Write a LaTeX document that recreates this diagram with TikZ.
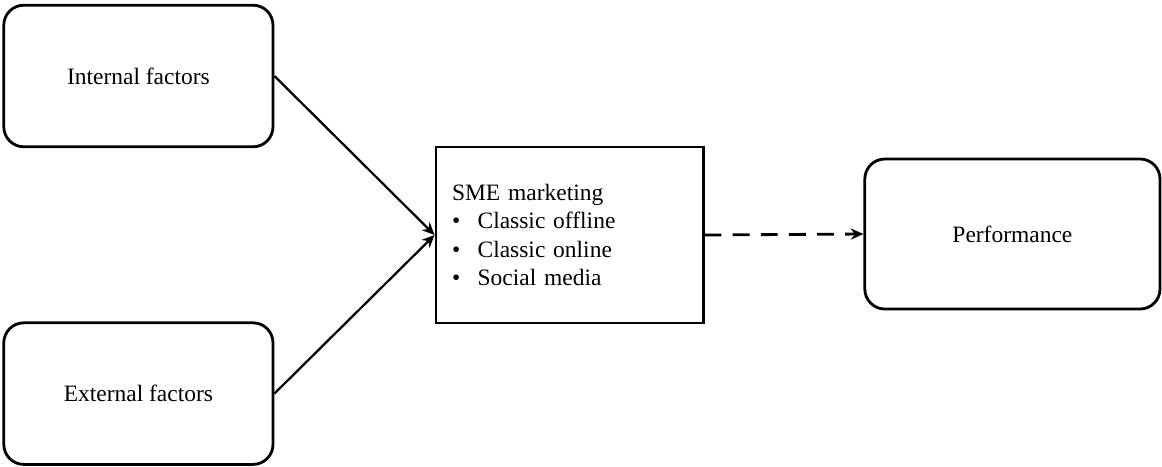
\documentclass[tikz,border=0pt]{standalone}
\usepackage{fontspec}
\setmainfont{Liberation Serif}
\usepackage{tikz}
\usetikzlibrary{positioning}
\usetikzlibrary{arrows.meta}
\usepackage{xcolor}
\definecolor{boxblack}{RGB}{0, 0, 0}

\begin{document}
\begin{tikzpicture}[
        % Node styles
        factor/.style={draw=boxblack, line width=2pt, rounded corners=0.5cm, minimum width=6.73cm, minimum height=3.54cm, font=\fontsize{16.7}{20.2}\selectfont},
        marketing/.style={draw=boxblack, line width=2pt, minimum width=6.68cm, minimum height=4.40cm, text width=5.88cm, inner xsep=0.4cm, align=left, font=\fontsize{16.7}{20.2}\selectfont},
        result/.style={draw=boxblack, line width=2pt, rounded corners=0.5cm, minimum width=7.38cm, minimum height=3.75cm, font=\fontsize{16.7}{20.2}\selectfont}
    ]
    \useasboundingbox (0, 0) rectangle (29.05, -11.65);

    % Driving factors
    \node[factor] (internal) at (3.46, -1.90) {Internal factors};
    \node[factor] (external) at (3.46, -9.84) {External factors};

    % Marketing channels
    \node[marketing] (sme) at (14.24, -5.875) {SME marketing\\
        \makebox[0.64cm][l]{\textbullet}Classic offline\\
        \makebox[0.64cm][l]{\textbullet}Classic online\\
        \makebox[0.64cm][l]{\textbullet}Social media};

    % Outcome
    \node[result] (perf) at (25.31, -5.85) {Performance};

    % Influence arrows
    \draw[-{Stealth[length=9pt, width=8pt]}, line width=1.6pt, boxblack] (internal.east) -- (sme.west);
    \draw[-{Stealth[length=9pt, width=8pt]}, line width=1.6pt, boxblack] (external.east) -- (sme.west);

    % Hypothesised effect (dashed)
    \draw[-{Stealth[length=9pt, width=8pt]}, line width=2pt, boxblack, dash pattern=on 12pt off 8pt] (sme.east) -- (perf.west);

\end{tikzpicture}
\end{document}
